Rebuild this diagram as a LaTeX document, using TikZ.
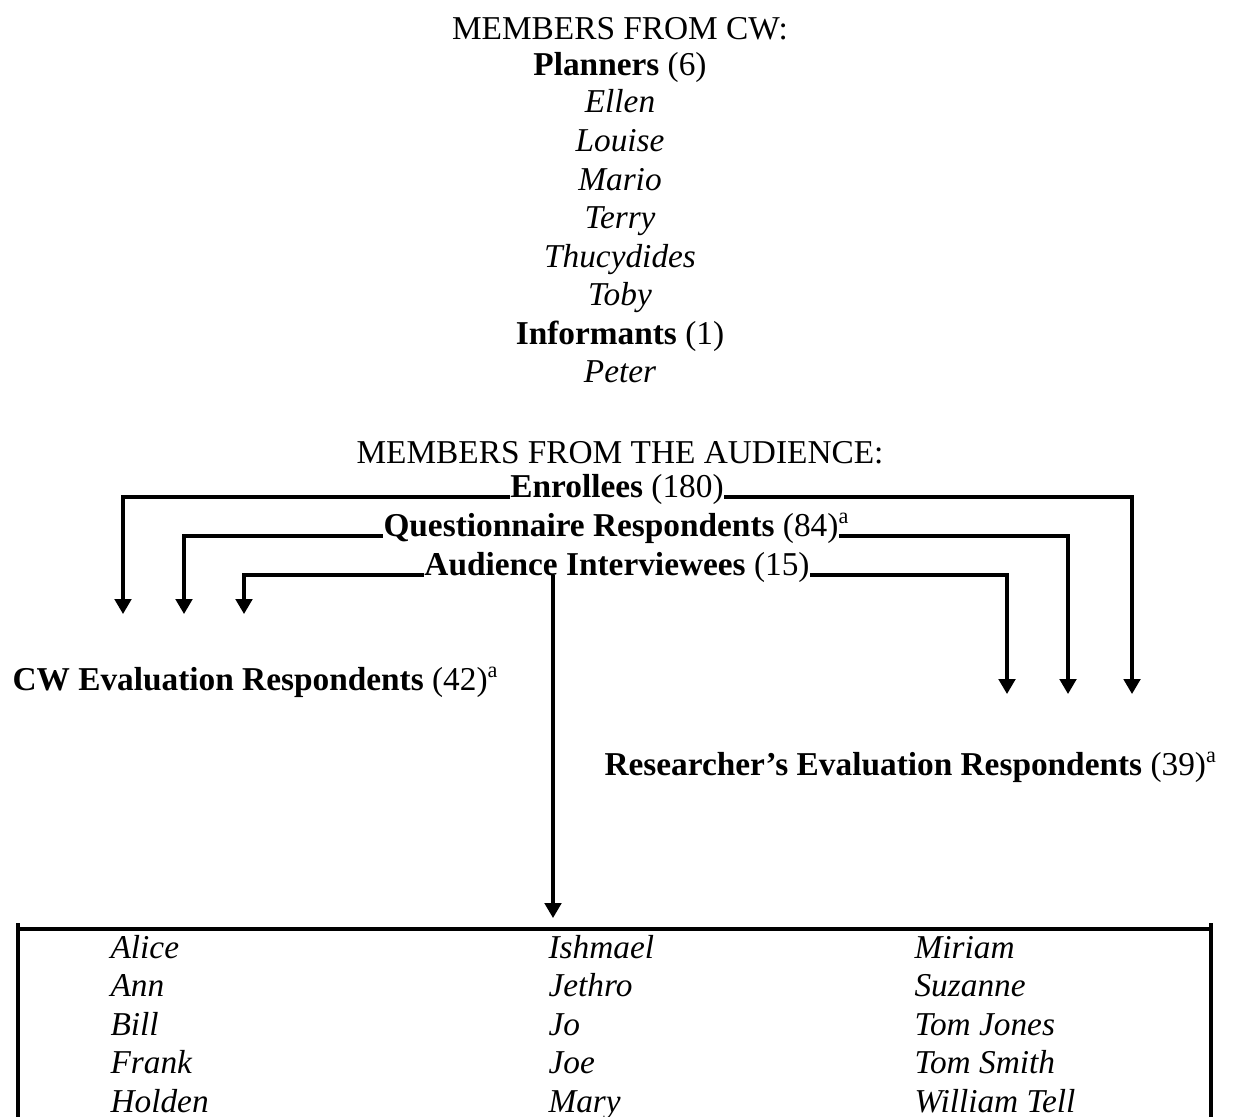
\documentclass[tikz,border=0pt]{standalone}
\usepackage{fontspec}
\setmainfont{Liberation Serif}
\usetikzlibrary{arrows.meta}
\begin{document}
\begin{tikzpicture}[x=0.36pt,y=-0.36pt,
  txt/.style={inner sep=0pt, anchor=base, font=\fontsize{12}{14}\selectfont},
  lft/.style={txt, anchor=base west},
  person/.style={lft, font=\fontsize{12}{14}\selectfont\itshape},
  cperson/.style={txt, font=\fontsize{12}{14}\selectfont\itshape},
  wire/.style={line width=1.1pt},
  arr/.style={wire, -{Triangle[width=6pt,length=5.4pt]}},
  rule/.style={line width=1.1pt}]
\useasboundingbox (0,0) rectangle (1240,1116);

% members from CW
\node[txt]     (hdcw)   at (620,39)  {MEMBERS FROM CW:};
\node[txt]     (plan)   at (620,75)  {\textbf{Planners} (6)};
\node[cperson] (ellen)  at (620,112) {Ellen};
\node[cperson] (louise) at (620,151) {Louise};
\node[cperson] (mario)  at (620,190) {Mario};
\node[cperson] (terry)  at (620,228) {Terry};
\node[cperson] (thuc)   at (620,267) {Thucydides};
\node[cperson] (toby)   at (620,305) {Toby};
\node[txt]     (inf)    at (620,344) {\textbf{Informants} (1)};
\node[cperson] (peter)  at (620,382) {Peter};

% members from the audience
\node[txt] (hdaud) at (620,463) {MEMBERS FROM THE AUDIENCE:};
\node[txt] (enr) at (617,497) {\textbf{Enrollees} (180)};
\node[txt] (que) at (611,536) {\textbf{Questionnaire Respondents} (84)\rlap{\textsuperscript{a}}};
\node[txt] (aud) at (617,575) {\textbf{Audience Interviewees} (15)};

\node[lft] (cwev) at (12,690) {\textbf{CW Evaluation Respondents} (42)\textsuperscript{a}};
\node[lft] (rsev) at (604,775) {\textbf{Researcher’s Evaluation Respondents} (39)\textsuperscript{a}};

% arrow ends
\coordinate (cw1) at (123,614);
\coordinate (cw2) at (184,614);
\coordinate (cw3) at (244,614);
\coordinate (rs1) at (1007,694);
\coordinate (rs2) at (1068,694);
\coordinate (rs3) at (1132,694);
\coordinate (tabin) at (553,918);

\draw[arr] (enr.base west) -| (cw1);
\draw[arr] (que.base west) -| (cw2);
\draw[arr] (aud.base west) -| (cw3);
\draw[arr] (enr.base east) -| (rs3);
\draw[arr] (que.base east) -| (rs2);
\draw[arr] (aud.base east) -| (rs1);
\draw[arr] (tabin |- aud.base) -- (tabin);

% interviewee table
\draw[rule] (18,923) -- (18,1125);
\draw[rule] (1211,923) -- (1211,1125);
\draw[rule] (18,929) -- (1211,929);

\node[person] (n11) at (110,958)   {Alice};
\node[person] (n12) at (110,996.5) {Ann};
\node[person] (n13) at (110,1035)  {Bill};
\node[person] (n14) at (110,1073.5){Frank};
\node[person] (n15) at (110,1112)  {Holden};

\node[person] (n21) at (548,958)   {Ishmael};
\node[person] (n22) at (548,996.5) {Jethro};
\node[person] (n23) at (548,1035)  {Jo};
\node[person] (n24) at (548,1073.5){Joe};
\node[person] (n25) at (548,1112)  {Mary};

\node[person] (n31) at (914,958)   {Miriam};
\node[person] (n32) at (914,996.5) {Suzanne};
\node[person] (n33) at (914,1035)  {Tom Jones};
\node[person] (n34) at (914,1073.5){Tom Smith};
\node[person] (n35) at (914,1112)  {William Tell};
\end{tikzpicture}
\end{document}
